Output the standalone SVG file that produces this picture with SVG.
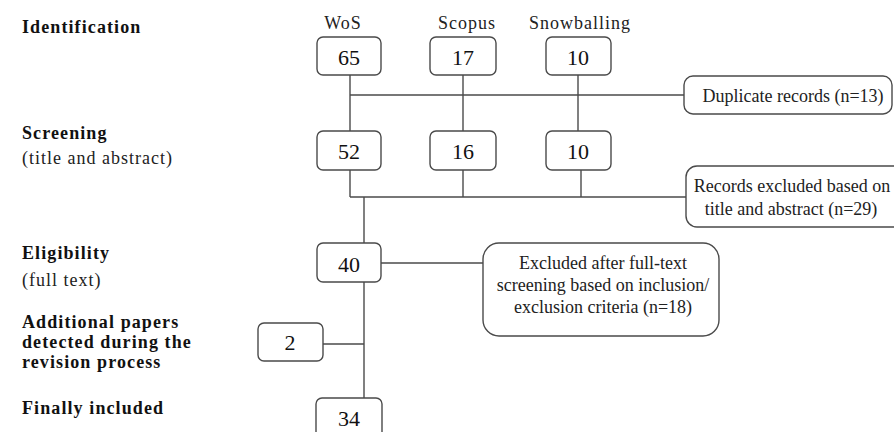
<svg xmlns="http://www.w3.org/2000/svg" width="894" height="432" viewBox="0 0 894 432">
<style>
.box{fill:#fff;stroke:#4a4a4a;stroke-width:1.4}
.ln{stroke:#4a4a4a;stroke-width:1.4;fill:none}
text{font-family:'Liberation Serif','Times New Roman','DejaVu Serif',Tinos,serif}
.num{font-size:22px;fill:#111;text-anchor:middle}
.t{font-size:18px;fill:#222;text-anchor:middle}
.lab{font-size:18px;fill:#222;letter-spacing:1px}
.bold{font-size:18px;font-weight:bold;fill:#111;letter-spacing:1.1px}
</style>
<rect width="894" height="432" fill="#fff"/>
<g id="stage-labels">
<text class="bold" x="22" y="33">Identification</text>
<text class="bold" x="22" y="139">Screening</text>
<text class="lab" x="22" y="164">(title and abstract)</text>
<text class="bold" x="22" y="259">Eligibility</text>
<text class="lab" x="22" y="286">(full text)</text>
<text class="bold" x="22" y="328">Additional papers</text>
<text class="bold" x="22" y="348">detected during the</text>
<text class="bold" x="22" y="368">revision process</text>
<text class="bold" x="22" y="414">Finally included</text>
</g>
<g id="source-labels">
<text class="lab" x="343" y="29" text-anchor="middle">WoS</text>
<text class="lab" x="467" y="29" text-anchor="middle">Scopus</text>
<text class="lab" x="580" y="29" text-anchor="middle">Snowballing</text>
</g>
<g id="connectors">
<line class="ln" x1="350" y1="75" x2="350" y2="131"/>
<line class="ln" x1="463" y1="75" x2="463" y2="131"/>
<line class="ln" x1="578" y1="75" x2="578" y2="131"/>
<line class="ln" x1="350" y1="95" x2="684" y2="95"/>
<line class="ln" x1="350" y1="170" x2="350" y2="197"/>
<line class="ln" x1="463" y1="170" x2="463" y2="197"/>
<line class="ln" x1="581" y1="170" x2="581" y2="197"/>
<line class="ln" x1="350" y1="197" x2="686" y2="197"/>
<line class="ln" x1="364" y1="197" x2="364" y2="243"/>
<line class="ln" x1="364" y1="282" x2="364" y2="398"/>
<line class="ln" x1="381" y1="263" x2="483" y2="263"/>
<line class="ln" x1="323" y1="344" x2="364" y2="344"/>
</g>
<g id="wos-65">
<rect class="box" x="317" y="37" width="64" height="38" rx="6"/>
<text class="num" x="349" y="65">65</text>
</g>
<g id="scopus-17">
<rect class="box" x="430" y="37" width="66" height="38" rx="6"/>
<text class="num" x="463" y="65">17</text>
</g>
<g id="snow-10a">
<rect class="box" x="546" y="37" width="65" height="38" rx="6"/>
<text class="num" x="578" y="65">10</text>
</g>
<g id="duplicates">
<rect class="box" x="684" y="76" width="208" height="38" rx="9"/>
<text class="t" x="793" y="102">Duplicate records (n=13)</text>
</g>
<g id="wos-52">
<rect class="box" x="317" y="131" width="64" height="39" rx="6"/>
<text class="num" x="349" y="159">52</text>
</g>
<g id="scopus-16">
<rect class="box" x="430" y="131" width="66" height="39" rx="6"/>
<text class="num" x="463" y="159">16</text>
</g>
<g id="snow-10b">
<rect class="box" x="546" y="131" width="65" height="39" rx="6"/>
<text class="num" x="578" y="159">10</text>
</g>
<g id="excluded-title">
<rect class="box" x="686" y="166" width="220" height="61" rx="11"/>
<text class="t" x="792" y="192">Records excluded based on</text>
<text class="t" x="791" y="215">title and abstract (n=29)</text>
</g>
<g id="eligible-40">
<rect class="box" x="317" y="243" width="64" height="39" rx="6"/>
<text class="num" x="349" y="272">40</text>
</g>
<g id="excluded-fulltext">
<rect class="box" x="483" y="243" width="236" height="93" rx="16"/>
<text class="t" x="603" y="269">Excluded after full-text</text>
<text class="t" x="603" y="291">screening based on inclusion/</text>
<text class="t" x="603" y="313">exclusion criteria (n=18)</text>
</g>
<g id="additional-2">
<rect class="box" x="258" y="323" width="65" height="38" rx="6"/>
<text class="num" x="290" y="350">2</text>
</g>
<g id="included-34">
<rect class="box" x="316" y="398" width="66" height="40" rx="6"/>
<text class="num" x="349" y="426">34</text>
</g>
</svg>
